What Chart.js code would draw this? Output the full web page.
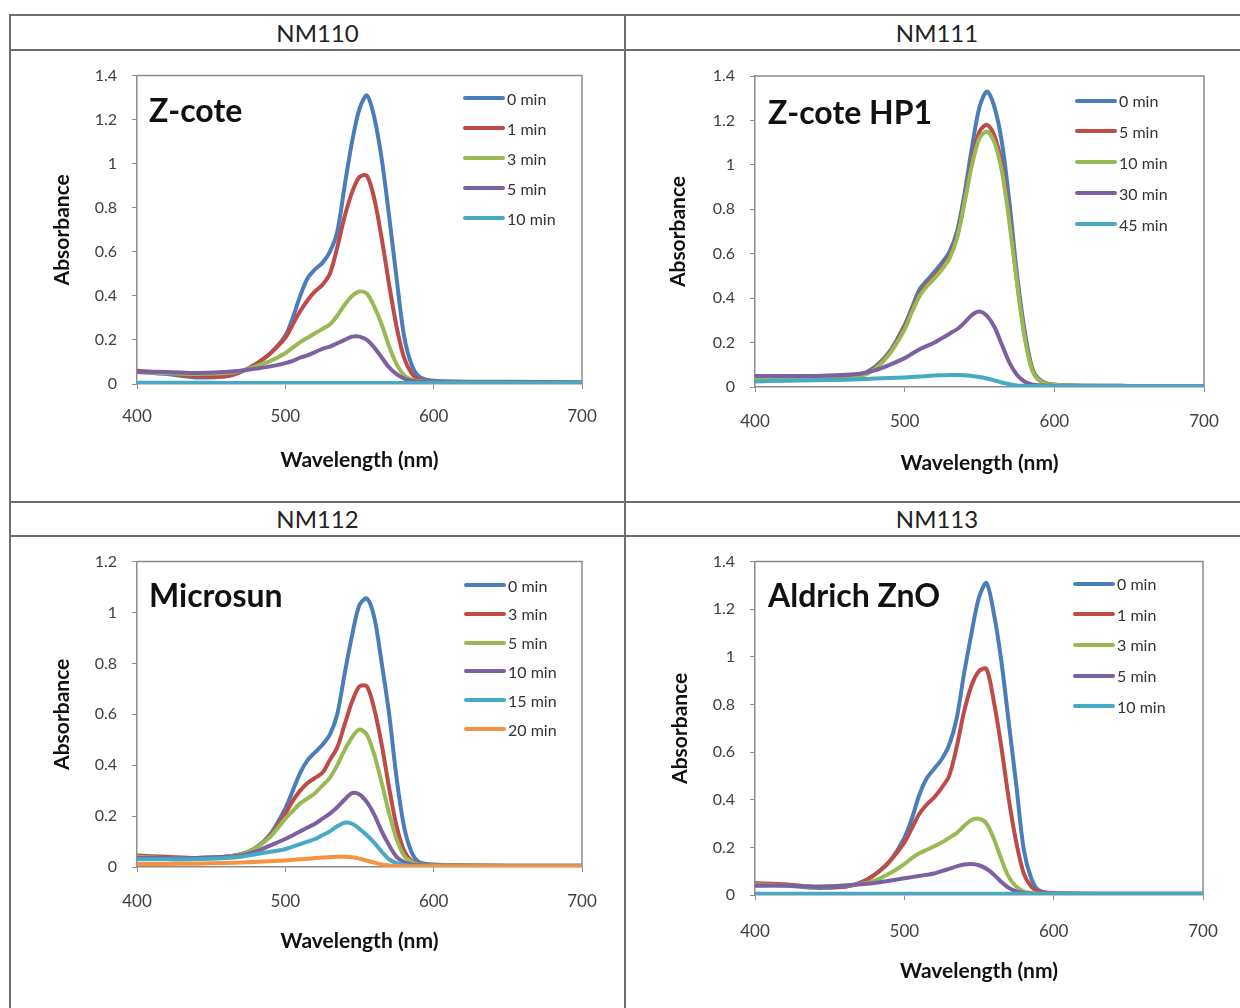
<!DOCTYPE html>
<html>
<head>
<meta charset="utf-8">
<script src="https://cdn.jsdelivr.net/npm/chart.js@4.4.1/dist/chart.umd.min.js"></script>
<style>
  body { margin: 0; background: #fff; font-family: Lato, sans-serif; }
  #page { position: relative; width: 1240px; height: 1008px; overflow: hidden; background: #fff; }
  .rule { position: absolute; background: #6e6e6e; }
  .head { position: absolute; width: 300px; margin-left: -150px; text-align: center; font-size: 24px; line-height: 30px; color: #222; }
  canvas { position: absolute; }
  .sample { position: absolute; font-weight: bold; font-size: 32px; line-height: 32px; color: #111; white-space: nowrap; }
  .item { position: absolute; height: 20px; display: flex; align-items: center; font-size: 16px; color: #333; white-space: nowrap; }
  .swatch { width: 42px; height: 4px; margin-right: 2px; border-radius: 2px; }
</style>
</head>
<body>
<div id="page"></div>
<script>
// shared wavelength grid (nm)
const wavelengths = [400, 420, 440, 460, 470, 480, 490, 500, 505, 510, 515, 520, 525, 530, 535, 540, 545, 550, 555, 560, 565, 570, 575, 580, 585, 590, 600, 650, 700];

// NM110 - Z-cote
const zcoteLabels = ['0 min', '1 min', '3 min', '5 min', '10 min'];
const zcote0 = [.055, .045, .03, .035, .055, .09, .14, .22, .30, .40, .48, .52, .55, .60, .69, .90, 1.10, 1.25, 1.31, 1.21, 1.02, .76, .48, .22, .09, .035, .015, .01, .008];
const zcote1 = [.06, .05, .035, .035, .055, .09, .14, .21, .27, .33, .38, .42, .45, .50, .62, .76, .87, .94, .945, .84, .66, .45, .26, .12, .05, .02, .01, .008, .006];
const zcote3 = [.055, .05, .045, .05, .06, .08, .105, .14, .165, .19, .21, .23, .25, .27, .31, .36, .40, .42, .41, .35, .27, .17, .09, .04, .02, .012, .008, .006, .005];
const zcote5 = [.055, .055, .05, .055, .06, .07, .08, .095, .105, .12, .13, .145, .16, .17, .185, .20, .215, .215, .20, .165, .12, .075, .045, .025, .015, .01, .008, .006, .005];
const zcote10 = [.006, .006, .006, .005, .005, .005, .005, .005, .005, .005, .005, .005, .005, .005, .005, .005, .005, .005, .005, .005, .005, .005, .005, .005, .005, .005, .005, .005, .005];

// NM111 - Z-cote HP1
const hp1Labels = ['0 min', '5 min', '10 min', '30 min', '45 min'];
const hp0 = [.045, .045, .045, .045, .055, .09, .16, .28, .36, .44, .48, .52, .56, .61, .70, .87, 1.08, 1.26, 1.33, 1.26, 1.10, .83, .51, .26, .09, .035, .01, .005, .005];
const hp5 = [.04, .04, .04, .04, .05, .085, .155, .27, .35, .42, .465, .50, .54, .59, .68, .84, 1.02, 1.15, 1.18, 1.13, 1.00, .76, .48, .24, .085, .03, .01, .005, .005];
const hp10 = [.035, .035, .035, .035, .045, .08, .15, .26, .34, .41, .455, .49, .53, .58, .67, .83, 1.00, 1.12, 1.15, 1.10, .97, .74, .47, .23, .08, .03, .01, .005, .005];
const hp30 = [.05, .05, .05, .055, .06, .075, .10, .13, .15, .17, .185, .20, .22, .24, .26, .29, .325, .34, .32, .27, .19, .11, .055, .025, .012, .008, .005, .004, .004];
const hp45 = [.025, .028, .03, .033, .035, .038, .04, .043, .045, .047, .05, .052, .053, .054, .054, .053, .05, .045, .038, .03, .02, .012, .007, .005, .004, .004, .003, .003, .003];

// NM112 - Microsun
const microsunLabels = ['0 min', '3 min', '5 min', '10 min', '15 min', '20 min'];
const ms0 = [.04, .035, .035, .04, .05, .075, .13, .23, .30, .37, .42, .45, .48, .52, .60, .76, .91, 1.03, 1.055, .98, .80, .60, .35, .16, .06, .02, .01, .005, .005];
const ms3 = [.045, .04, .035, .04, .05, .075, .125, .21, .26, .30, .33, .35, .37, .42, .47, .56, .65, .71, .71, .62, .48, .31, .16, .065, .025, .012, .008, .005, .005];
const ms5 = [.04, .035, .035, .04, .05, .075, .12, .19, .22, .25, .27, .29, .32, .35, .40, .46, .51, .54, .52, .44, .33, .21, .11, .045, .02, .01, .007, .005, .005];
const ms10 = [.035, .035, .035, .04, .045, .06, .085, .11, .125, .14, .155, .17, .19, .21, .235, .265, .29, .285, .255, .205, .14, .085, .04, .02, .01, .007, .005, .004, .004];
const ms15 = [.03, .03, .03, .035, .04, .05, .06, .07, .08, .09, .10, .11, .125, .14, .16, .174, .17, .15, .125, .095, .06, .03, .015, .008, .005, .004, .004, .003, .003];
const ms20 = [.012, .012, .013, .016, .018, .02, .023, .026, .028, .03, .032, .035, .037, .039, .04, .04, .038, .033, .025, .017, .01, .006, .004, .003, .003, .003, .003, .003, .003];

// NM113 - Aldrich ZnO
const aldrichLabels = ['0 min', '1 min', '3 min', '5 min', '10 min'];
const al0 = [.04, .04, .03, .035, .05, .085, .14, .24, .32, .42, .49, .53, .57, .63, .74, .93, 1.10, 1.25, 1.31, 1.18, .98, .72, .46, .19, .07, .02, .008, .005, .005];
const al1 = [.05, .045, .035, .035, .05, .085, .14, .22, .28, .34, .38, .41, .45, .50, .62, .77, .88, .94, .95, .81, .62, .40, .22, .09, .035, .015, .007, .005, .005];
const al3 = [.045, .04, .035, .04, .045, .06, .09, .13, .155, .175, .19, .205, .22, .24, .26, .29, .315, .32, .30, .235, .15, .075, .035, .015, .008, .005, .005, .004, .004];
const al5 = [.04, .04, .035, .04, .045, .05, .06, .07, .075, .08, .085, .09, .10, .11, .12, .128, .13, .125, .11, .085, .055, .03, .015, .008, .005, .004, .004, .003, .003];
const al10 = [.005, .005, .005, .005, .005, .005, .005, .005, .005, .005, .005, .005, .005, .005, .005, .005, .005, .005, .005, .005, .005, .005, .005, .005, .005, .005, .005, .005, .005];

const xTicks = [400, 500, 600, 700];
const colors = ['#4A7EBB', '#BE4B48', '#98B954', '#7D60A0', '#46AAC5', '#F69240'];

const panels = [
  { head: 'NM110', name: 'Z-cote', labels: zcoteLabels, series: [zcote0, zcote1, zcote3, zcote5, zcote10], yMax: 1.4,
    cell: { x: 11, y: 51, w: 613, h: 450 }, plot: { l: 137, t: 75, r: 582, b: 384 },
    yTitleX: 62.5, xTitleY: 460, xLabelY: 416.7, legend: { x: 463, y: 98.3, dy: 30 }, nameX: 149, nameY: 110, headX: 317.5, headY: 33 },
  { head: 'NM111', name: 'Z-cote HP1', labels: hp1Labels, series: [hp0, hp5, hp10, hp30, hp45], yMax: 1.4,
    cell: { x: 626, y: 51, w: 614, h: 450 }, plot: { l: 755, t: 76, r: 1204, b: 387 },
    yTitleX: 678, xTitleY: 463.3, xLabelY: 421.5, legend: { x: 1075, y: 100.5, dy: 30.9 }, nameX: 768, nameY: 111.5, headX: 937, headY: 33 },
  { head: 'NM112', name: 'Microsun', labels: microsunLabels, series: [ms0, ms3, ms5, ms10, ms15, ms20], yMax: 1.2,
    cell: { x: 11, y: 537, w: 613, h: 471 }, plot: { l: 137, t: 561, r: 582, b: 867 },
    yTitleX: 62.5, xTitleY: 941.7, xLabelY: 901.5, legend: { x: 464, y: 585, dy: 28.8 }, nameX: 149, nameY: 595, headX: 317.5, headY: 519 },
  { head: 'NM113', name: 'Aldrich ZnO', labels: aldrichLabels, series: [al0, al1, al3, al5, al10], yMax: 1.4,
    cell: { x: 626, y: 537, w: 614, h: 471 }, plot: { l: 755, t: 561, r: 1203, b: 895 },
    yTitleX: 680, xTitleY: 971.7, xLabelY: 931.5, legend: { x: 1073, y: 583.5, dy: 30.7 }, nameX: 768, nameY: 595, headX: 937, headY: 519 }
];

const page = document.getElementById('page');

function rule(x, y, w, h) {
  const d = document.createElement('div');
  d.className = 'rule';
  Object.assign(d.style, { left: x + 'px', top: y + 'px', width: w + 'px', height: h + 'px' });
  page.appendChild(d);
}
// table grid
rule(9, 14, 1240, 2);
rule(9, 49, 1240, 2);
rule(9, 501, 1240, 2);
rule(9, 535, 1240, 2);
rule(9, 14, 2, 1000);
rule(624, 14, 2, 1000);

// frame on top and right of the plot area
const plotFrame = {
  id: 'plotFrame',
  beforeDatasetsDraw(chart) {
    const { ctx, chartArea: a } = chart;
    ctx.save();
    ctx.strokeStyle = '#8c8c8c';
    ctx.lineWidth = 1.5;
    ctx.beginPath();
    ctx.moveTo(a.left, a.top);
    ctx.lineTo(a.right, a.top);
    ctx.lineTo(a.right, a.bottom);
    ctx.stroke();
    ctx.restore();
  }
};

Chart.defaults.font.family = 'Lato';

function makePanel(p) {
  const head = document.createElement('div');
  head.className = 'head';
  head.textContent = p.head;
  head.style.left = p.headX + 'px';
  head.style.top = (p.headY - 15) + 'px';
  page.appendChild(head);

  const cv = document.createElement('canvas');
  cv.width = p.cell.w;
  cv.height = p.cell.h;
  cv.style.left = p.cell.x + 'px';
  cv.style.top = p.cell.y + 'px';
  page.appendChild(cv);

  const yW = p.plot.l - p.cell.x;
  const xH = p.cell.y + p.cell.h - p.plot.b;
  const titleLH = 21 * 1.2;
  const tickLH = 17 * 1.2;

  new Chart(cv, {
    type: 'line',
    data: {
      datasets: p.series.map((s, i) => ({
        label: p.labels[i],
        data: wavelengths.map((w, j) => ({ x: w, y: s[j] })),
        borderColor: colors[i],
        borderWidth: 4,
        pointRadius: 0,
        tension: 0.3,
        fill: false,
        order: -i
      }))
    },
    options: {
      responsive: false,
      animation: false,
      devicePixelRatio: 1,
      layout: { padding: { left: 0, top: p.plot.t - p.cell.y, right: p.cell.x + p.cell.w - p.plot.r, bottom: 0 } },
      plugins: { legend: { display: false }, tooltip: { enabled: false } },
      scales: {
        x: {
          type: 'linear', min: xTicks[0], max: xTicks[xTicks.length - 1],
          afterBuildTicks: s => { s.ticks = xTicks.map(v => ({ value: v })); },
          ticks: { padding: p.xLabelY - p.plot.b - 5 - tickLH / 2, color: '#404040', font: { size: 17 } },
          grid: { drawOnChartArea: false, tickLength: 5, color: '#8c8c8c' },
          border: { color: '#8c8c8c', width: 1.5 },
          title: { display: true, text: 'Wavelength (nm)', color: '#111', font: { size: 21, weight: 'bold' },
            padding: { top: 0, bottom: p.cell.y + p.cell.h - p.xTitleY - titleLH / 2 } },
          afterFit: s => { s.height = xH; }
        },
        y: {
          type: 'linear', min: 0, max: p.yMax,
          ticks: { stepSize: 0.2, padding: 15, color: '#404040', font: { size: 16 }, callback: v => String(+v.toFixed(1)) },
          grid: { drawOnChartArea: false, tickLength: 5, color: '#8c8c8c' },
          border: { color: '#8c8c8c', width: 1.5 },
          title: { display: true, text: 'Absorbance', color: '#111', font: { size: 21, weight: 'bold' },
            padding: { top: p.yTitleX - p.cell.x - titleLH / 2, bottom: 0 } },
          afterFit: s => { s.width = yW; }
        }
      }
    },
    plugins: [plotFrame]
  });

  const name = document.createElement('div');
  name.className = 'sample';
  name.textContent = p.name;
  name.style.left = p.nameX + 'px';
  name.style.top = (p.nameY - 16) + 'px';
  page.appendChild(name);

  p.labels.forEach((lab, i) => {
    const it = document.createElement('div');
    it.className = 'item';
    it.style.left = p.legend.x + 'px';
    it.style.top = (p.legend.y + i * p.legend.dy - 10) + 'px';
    const sw = document.createElement('span');
    sw.className = 'swatch';
    sw.style.background = colors[i];
    const tx = document.createElement('span');
    tx.textContent = lab;
    it.appendChild(sw);
    it.appendChild(tx);
    page.appendChild(it);
  });
}

panels.forEach(makePanel);
</script>
</body>
</html>
